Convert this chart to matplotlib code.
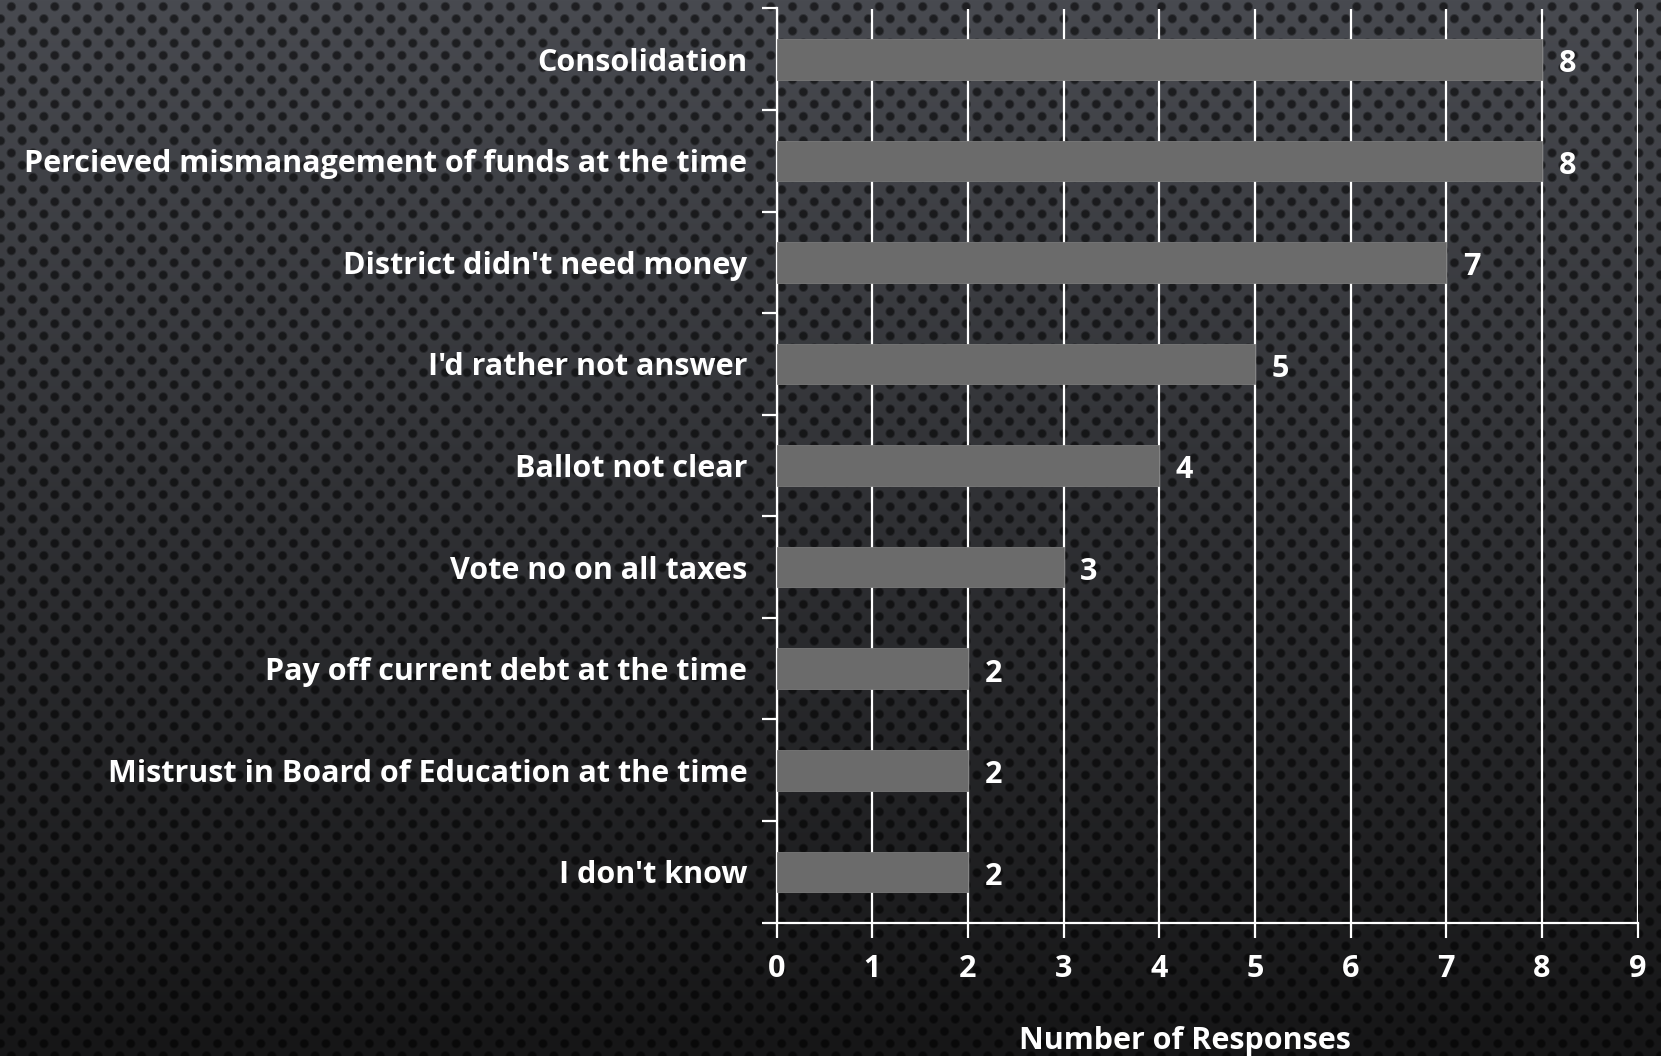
import numpy as np
import matplotlib
matplotlib.use("Agg")
import matplotlib.pyplot as plt

categories = [
    "Consolidation",
    "Percieved mismanagement of funds at the time",
    "District didn't need money",
    "I'd rather not answer",
    "Ballot not clear",
    "Vote no on all taxes",
    "Pay off current debt at the time",
    "Mistrust in Board of Education at the time",
    "I don't know",
]
responses = [8, 8, 7, 5, 4, 3, 2, 2, 2]
x_ticks = [0, 1, 2, 3, 4, 5, 6, 7, 8, 9]
x_label = "Number of Responses"

W, H = 1661, 1056
DPI = 100
FONT = "Open Sans"
FS = 22

fig = plt.figure(figsize=(W / DPI, H / DPI), dpi=DPI)

# textured dark background (vertical gradient with hex dot pattern)
yy, xx = np.mgrid[0:H, 0:W].astype(float)
t = yy / (H - 1)
top = np.array([72, 74, 80]) / 255.0
bot = np.array([22, 22, 23]) / 255.0
base = top[None, None, :] * (1 - t[..., None]) + bot[None, None, :] * t[..., None]
sx, sy = 21.7, 12.2
row = np.floor(yy / sy)
cy = (row + 0.5) * sy
off = (row % 2) * (sx / 2)
cx = np.floor((xx - off) / sx) * sx + off + sx / 2
d = np.hypot(xx - cx, yy - cy)
dot = np.clip((5.3 - d) / 2.0, 0, 1)
dark = base * 0.42
img = base * (1 - dot[..., None]) + dark * dot[..., None]
bg = fig.add_axes([0, 0, 1, 1], zorder=-10)
bg.imshow(img, aspect="auto", interpolation="bilinear")
bg.axis("off")

left_px, right_px = 776.5, 1637.7
top_px, bot_px = 8.5, 922.6
ax = fig.add_axes([left_px / W, 1 - bot_px / H, (right_px - left_px) / W, (bot_px - top_px) / H])
ax.set_facecolor("none")

n = len(categories)
ypos = np.arange(n)
ax.barh(ypos, responses, height=0.40, color="#6b6b6b", edgecolor="#7a7a7a", linewidth=0.6, zorder=3)
ax.set_ylim(n - 0.5, -0.5)
ax.set_xlim(0, 9)

ax.set_xticks(x_ticks)
ax.set_xticklabels([str(v) for v in x_ticks])
ax.grid(axis="x", color="white", linewidth=1.6, zorder=1)
ax.set_axisbelow(True)

# y ticks at category boundaries, labels centered on categories
ax.set_yticks(np.arange(-0.5, n, 1.0))
ax.set_yticklabels([])
ax.set_yticks(ypos, minor=True)
ax.set_yticklabels(categories, minor=True)
ax.tick_params(axis="y", which="major", length=10.7, width=1.6, color="white", direction="out")
ax.tick_params(axis="y", which="minor", length=0, pad=21, labelsize=FS, labelcolor="white")
ax.tick_params(axis="x", length=10.7, width=1.6, color="white", direction="out", pad=12,
               labelsize=FS, labelcolor="white")

for lab in ax.get_yticklabels(minor=True) + ax.get_xticklabels():
    lab.set_fontfamily(FONT)
    lab.set_fontweight("bold")

for s in ["top", "right"]:
    ax.spines[s].set_visible(False)
for s in ["left", "bottom"]:
    ax.spines[s].set_color("white")
    ax.spines[s].set_linewidth(1.6)

for y, v in zip(ypos, responses):
    ax.annotate(str(v), (v, y), xytext=(12, -3.5), textcoords="offset points",
                ha="left", va="center", color="white", fontsize=FS,
                fontfamily=FONT, fontweight="bold")

ax.set_xlabel(x_label, color="white", fontsize=FS, fontfamily=FONT, fontweight="bold")
ax.xaxis.set_label_coords(0.474, -0.129)
ax.xaxis.label.set_va("center")

fig.savefig("out.png", dpi=DPI)
